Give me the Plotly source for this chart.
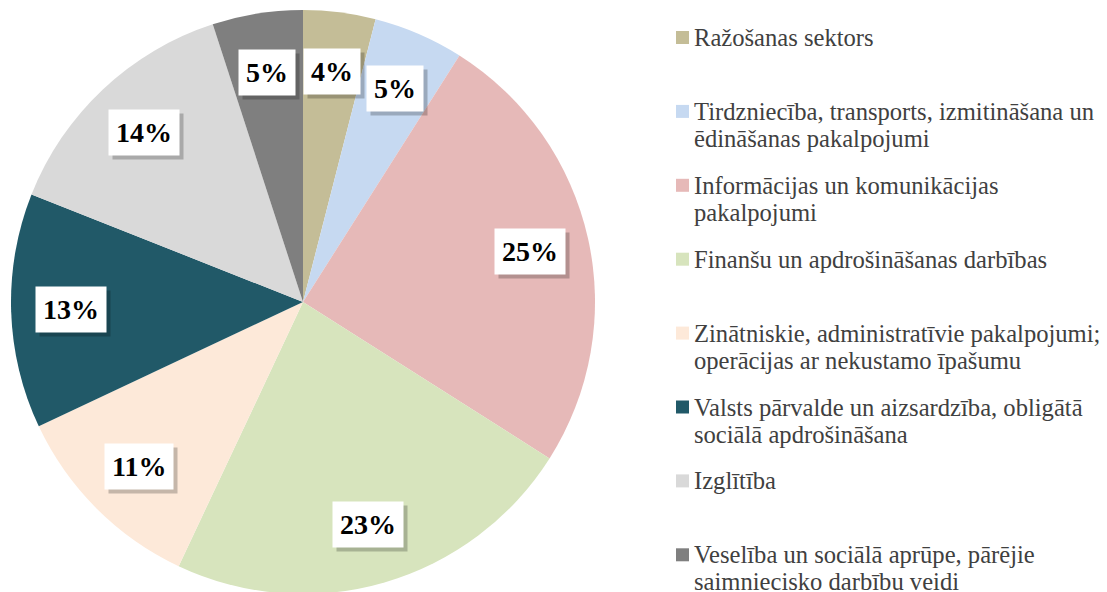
import math
import plotly.graph_objects as go

categories = [
    "Ražošanas sektors",
    "Tirdzniecība, transports, izmitināšana un<br>ēdināšanas pakalpojumi",
    "Informācijas un komunikācijas<br>pakalpojumi",
    "Finanšu un apdrošināšanas darbības",
    "Zinātniskie, administratīvie pakalpojumi;<br>operācijas ar nekustamo īpašumu",
    "Valsts pārvalde un aizsardzība, obligātā<br>sociālā apdrošināšana",
    "Izglītība",
    "Veselība un sociālā aprūpe, pārējie<br>saimniecisko darbību veidi",
]
shares = [4, 5, 25, 23, 11, 13, 14, 5]
colors = ["#c4bd97", "#c6d9f1", "#e6b9b8", "#d7e4bd", "#fde9d9", "#215968", "#d9d9d9", "#7f7f7f"]

W, H = 1107, 592
OFF = 8  # page body margin
FONT = "Liberation Serif, Times New Roman, serif"


def px(x):
    return (x - OFF) / W


def py(y):
    return 1 - (y - OFF) / H


# pie geometry (page pixels)
PCX, PCY, R = 303, 302, 292
dom_x = [px(PCX - R), px(PCX + R)]
dom_y = [py(PCY + R), py(PCY - R)]

fig = go.Figure(go.Pie(
    labels=[c.replace("<br>", " ") for c in categories],
    values=shares,
    sort=False,
    direction="clockwise",
    rotation=0,
    marker=dict(colors=colors, line=dict(width=0)),
    textinfo="none",
    hoverinfo="label+percent",
    domain=dict(x=dom_x, y=dom_y),
    showlegend=False,
))

total = sum(shares)
cum = 0
annotations = []
for v in shares:
    mid = (cum + v / 2) / total * 2 * math.pi
    cum += v
    r = 0.795 * R
    x = px(PCX + r * math.sin(mid))
    y = py(PCY - r * math.cos(mid))
    txt = f"<b>{round(v / total * 100)}%</b>"
    annotations.append(dict(
        x=x, y=y, xref="paper", yref="paper", text=txt, showarrow=False,
        xanchor="center", yanchor="middle", xshift=4, yshift=-4,
        font=dict(family=FONT, size=28, color="rgba(0,0,0,0)"),
        bgcolor="rgba(0,0,0,0.22)", borderpad=7,
    ))
    annotations.append(dict(
        x=x, y=y, xref="paper", yref="paper", text=txt, showarrow=False,
        xanchor="center", yanchor="middle",
        font=dict(family=FONT, size=28, color="#000000"),
        bgcolor="#ffffff", borderpad=7,
    ))

# custom legend (one annotation per text line for tight line spacing)
shapes = []
LEG_Y0, LEG_STEP, LINE_H = 37.5, 73.9, 27
for i, (cat, col) in enumerate(zip(categories, colors)):
    yc = LEG_Y0 + i * LEG_STEP
    for j, line in enumerate(cat.split("<br>")):
        annotations.append(dict(
            x=px(692), y=py(yc + j * LINE_H), xref="paper", yref="paper",
            xanchor="left", yanchor="middle", align="left", showarrow=False,
            text=line, font=dict(family=FONT, size=24.6, color="#404040"),
        ))
    shapes.append(dict(
        type="rect", xref="paper", yref="paper",
        x0=px(676), x1=px(689), y0=py(yc + 6.5), y1=py(yc - 6.5),
        fillcolor=col, line=dict(width=0),
    ))

fig.update_layout(
    width=W, height=H,
    margin=dict(l=0, r=0, t=0, b=0),
    paper_bgcolor="white",
    plot_bgcolor="white",
    annotations=annotations,
    shapes=shapes,
)

fig.write_html("out.html")
